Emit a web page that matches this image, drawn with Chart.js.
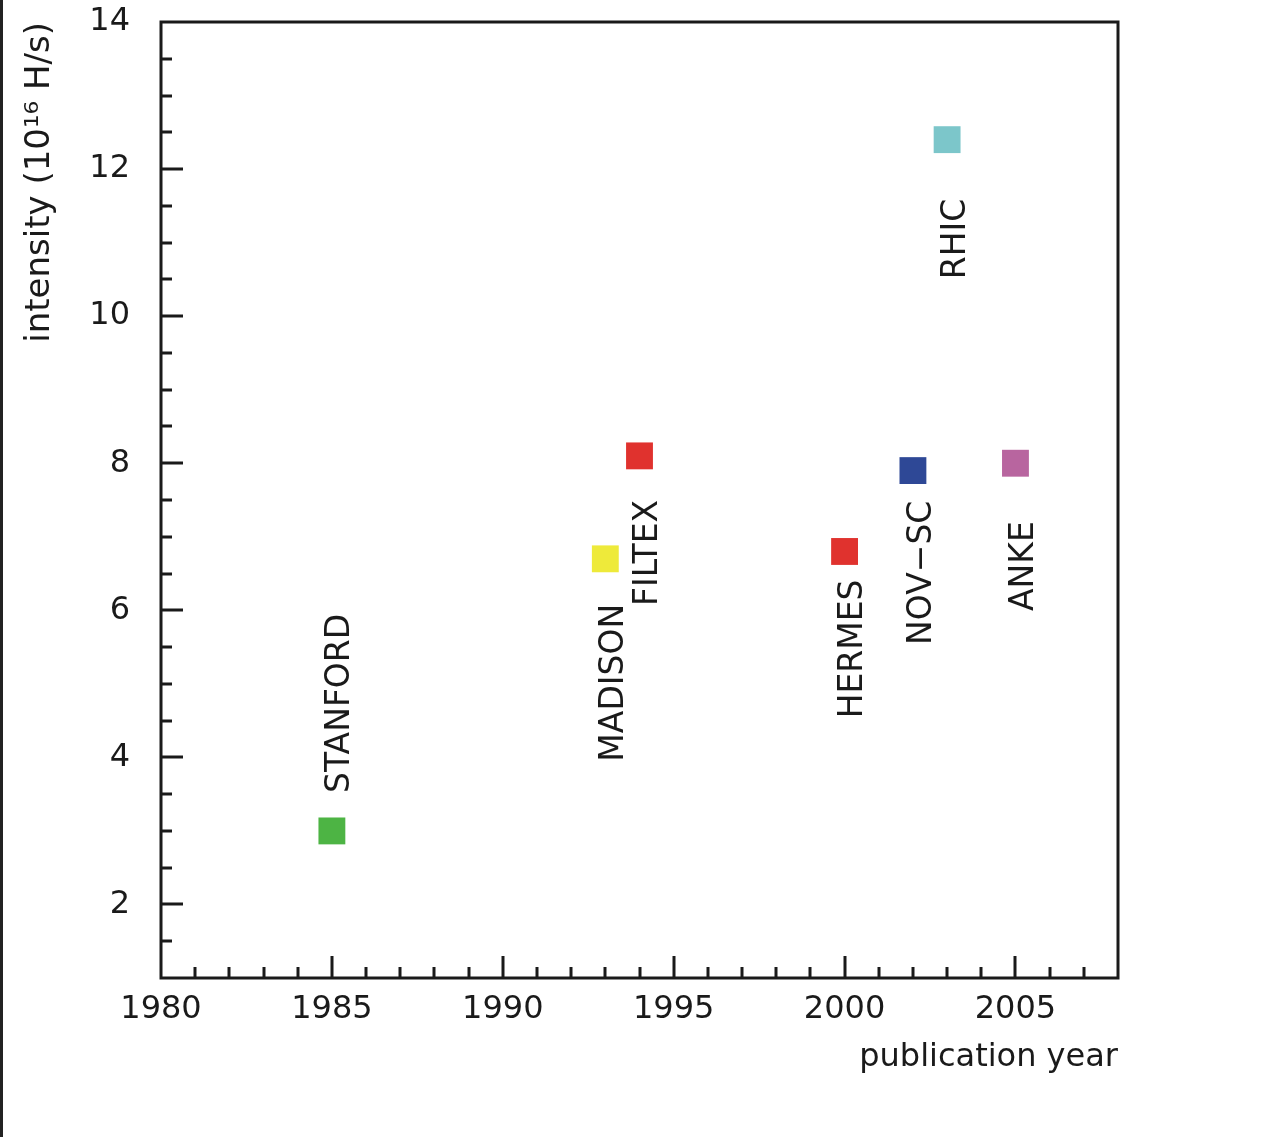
<!DOCTYPE html>
<html lang="en">
<head>
<meta charset="UTF-8">
<script src="https://cdn.jsdelivr.net/npm/chart.js"></script>
<style>
  body { margin: 0; background: #fff; }
  .wrap { position: relative; width: 1268px; height: 1137px; }
  .edge { position: absolute; left: 0; top: 0; width: 3px; height: 1137px; background: #222; }
</style>
</head>
<body>
<div class="wrap">
  <canvas id="myChart" width="1268" height="1137"></canvas>
  <div class="edge"></div>
</div>
<script>
// data
const experiments = ['STANFORD', 'MADISON', 'FILTEX', 'HERMES', 'NOV\u2212SC', 'RHIC', 'ANKE'];
const years = [1985, 1993, 1994, 2000, 2002, 2003, 2005];
const intensity = [3.0, 6.7, 8.1, 6.8, 7.9, 12.4, 8.0];
const xTickLabels = [1980, 1985, 1990, 1995, 2000, 2005];
const yTickLabels = [2, 4, 6, 8, 10, 12, 14];

const markerColors = ['#4db444', '#eeea3a', '#e0322e', '#e0322e', '#2e4896', '#7cc6ca', '#b8659f'];
// where each name goes relative to its square (px)
const labelPlacement = [
  { side: 'above', gap: 38 },
  { side: 'below', gap: 45 },
  { side: 'below', gap: 44 },
  { side: 'below', gap: 28 },
  { side: 'below', gap: 30 },
  { side: 'below', gap: 59 },
  { side: 'below', gap: 58 }
];

const FONT = 'DejaVu Sans';
const INK = '#1a1a1a';

const frameAndTicks = {
  id: 'frameAndTicks',
  afterDraw(chart) {
    const { ctx, chartArea: a, scales: { x, y } } = chart;
    ctx.save();
    ctx.strokeStyle = INK;
    ctx.lineWidth = 3;
    ctx.lineCap = 'butt';
    ctx.beginPath();
    // inward ticks on the bottom axis
    for (let yr = 1981; yr < 2008; yr++) {
      const px = Math.round(x.getPixelForValue(yr));
      const len = yr % 5 === 0 ? 22 : 11;
      ctx.moveTo(px, a.bottom);
      ctx.lineTo(px, a.bottom - len);
    }
    // inward ticks on the left axis
    for (let v = 1.5; v < 14; v += 0.5) {
      const py = Math.round(y.getPixelForValue(v));
      const len = v % 2 === 0 ? 22 : 11;
      ctx.moveTo(a.left, py);
      ctx.lineTo(a.left + len, py);
    }
    ctx.stroke();
    ctx.strokeRect(a.left, a.top, a.right - a.left, a.bottom - a.top);
    ctx.restore();
  }
};

const nameLabels = {
  id: 'nameLabels',
  afterDatasetsDraw(chart) {
    const { ctx } = chart;
    const meta = chart.getDatasetMeta(0);
    ctx.save();
    ctx.fillStyle = INK;
    ctx.font = '33px "' + FONT + '"';
    ctx.textBaseline = 'middle';
    meta.data.forEach((pt, i) => {
      const p = labelPlacement[i];
      ctx.save();
      if (p.side === 'above') {
        ctx.translate(pt.x + 9, pt.y - p.gap);
        ctx.textAlign = 'left';
      } else {
        ctx.translate(pt.x + 9, pt.y + p.gap);
        ctx.textAlign = 'right';
      }
      ctx.rotate(-Math.PI / 2);
      ctx.fillText(experiments[i], 0, 0);
      ctx.restore();
    });
    ctx.restore();
  }
};

const ctx = document.getElementById('myChart');

new Chart(ctx, {
  type: 'scatter',
  data: {
    datasets: [{
      label: 'intensity',
      data: years.map((yr, i) => ({ x: yr, y: intensity[i] })),
      backgroundColor: markerColors,
      borderWidth: 0,
      pointStyle: 'rect',
      pointRadius: 19,
      pointHoverRadius: 19
    }]
  },
  options: {
    responsive: false,
    animation: false,
    layout: { padding: { left: 0, top: 22, right: 150, bottom: 0 } },
    plugins: {
      legend: { display: false },
      tooltip: { enabled: false }
    },
    scales: {
      x: {
        type: 'linear',
        min: 1980,
        max: 2008,
        afterBuildTicks: s => { s.ticks = xTickLabels.map(v => ({ value: v })); },
        afterFit: s => { s.height = 159; s.paddingLeft = 0; s.paddingRight = 0; },
        grid: { display: false, drawTicks: false },
        border: { display: false },
        ticks: {
          color: INK,
          padding: 12,
          maxRotation: 0,
          font: { family: FONT, size: 32 },
          callback: v => String(v)
        },
        title: {
          display: true,
          text: 'publication year',
          align: 'end',
          color: INK,
          font: { family: FONT, size: 32 },
          padding: { top: 0, bottom: 60 }
        }
      },
      y: {
        type: 'linear',
        min: 1,
        max: 14,
        afterBuildTicks: s => { s.ticks = yTickLabels.map(v => ({ value: v })); },
        afterFit: s => { s.width = 161; s.paddingTop = 0; s.paddingBottom = 0; },
        grid: { display: false, drawTicks: false },
        border: { display: false },
        ticks: {
          color: INK,
          padding: 31,
          font: { family: FONT, size: 32 }
        },
        title: {
          display: true,
          text: 'intensity (10\u00b9\u2076 H/s)',
          align: 'end',
          color: INK,
          font: { family: FONT, size: 34 },
          padding: { top: 20, bottom: 0 }
        }
      }
    }
  },
  plugins: [frameAndTicks, nameLabels]
});
</script>
</body>
</html>
